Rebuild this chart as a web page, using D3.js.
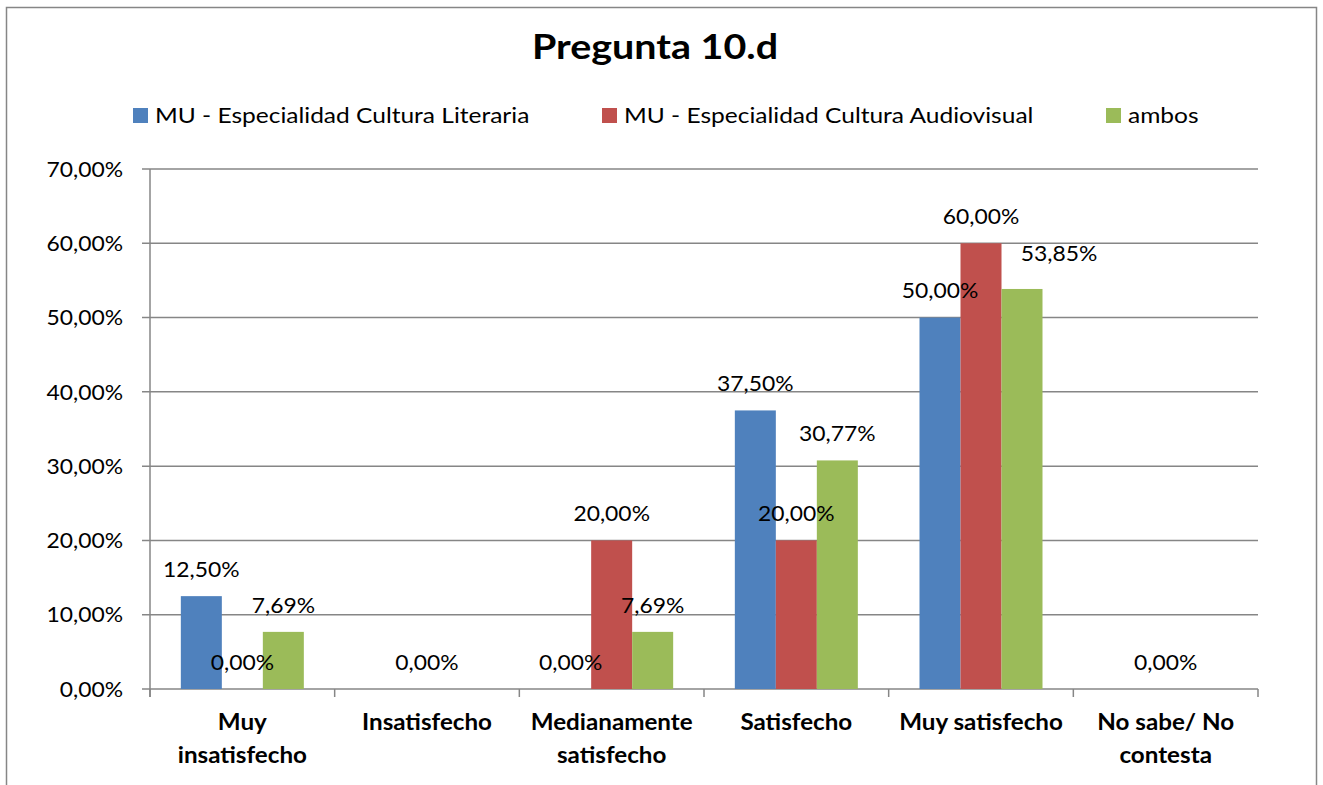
<!DOCTYPE html>
<html>
<head>
<meta charset="utf-8">
<script src="https://cdn.jsdelivr.net/npm/d3@7"></script>
<style>
  body { margin: 0; background: #fff; }
  text { font-family: Lato, "Open Sans", sans-serif; fill: #000; }
</style>
</head>
<body>
<div id="chart"></div>
<script>
var categories = ["Muy insatisfecho", "Insatisfecho", "Medianamente satisfecho", "Satisfecho", "Muy satisfecho", "No sabe/ No contesta"];
var categoryLines = [["Muy", "insatisfecho"], ["Insatisfecho"], ["Medianamente", "satisfecho"], ["Satisfecho"], ["Muy satisfecho"], ["No sabe/ No", "contesta"]];
var seriesNames = ["MU - Especialidad Cultura Literaria", "MU - Especialidad Cultura Audiovisual", "ambos"];
// null = no value (no label in the original)
var literaria = [12.5, null, 0, 37.5, 50, null];
var audiovisual = [0, 0, 20, 20, 60, 0];
var ambos = [7.69, null, 7.69, 30.77, 53.85, null];
var yTicks = [0, 10, 20, 30, 40, 50, 60, 70];
var colors = ["#4F81BD", "#C0504D", "#9BBB59"];

window.onload = () => {
    var width = 1323;
    var height = 785;
    var margin = { top: 169, right: 65, bottom: 96, left: 150 };

    var svg = d3.select("#chart")
        .append("svg")
        .attr("width", width)
        .attr("height", height);

    // the original font (Calibri) is wider than Lato, so stretch text a bit
    function place(sel, fx, fy, sx) {
        sel.attr("transform", (d, i) => "translate(" + fx(d, i) + "," + fy(d, i) + ") scale(" + sx + ",1)");
    }

    // outer chart border
    svg.append("rect")
        .attr("x", 6.5).attr("y", 7.5)
        .attr("width", 1310).attr("height", 800)
        .attr("fill", "none")
        .attr("stroke", "#868686")
        .attr("stroke-width", 1.5);

    var x = d3.scaleBand()
        .domain(categories)
        .range([margin.left, width - margin.right]);

    var x1 = d3.scaleBand()
        .domain(d3.range(3))
        .range([0, x.bandwidth()]);
    x1.paddingOuter((x.bandwidth() - 123) / 2 / (123 / 3));

    var y = d3.scaleLinear()
        .domain([0, 70])
        .range([height - margin.bottom, margin.top]);

    var fmt = v => v.toFixed(2).replace(".", ",") + "%";

    // gridlines
    svg.append("g")
        .selectAll("line")
        .data(yTicks)
        .enter()
        .append("line")
        .attr("x1", margin.left - 8)
        .attr("x2", width - margin.right)
        .attr("y1", d => y(d))
        .attr("y2", d => y(d))
        .attr("stroke", "#868686")
        .attr("stroke-width", 1.5);

    // y labels
    var yl = svg.append("g")
        .selectAll("text")
        .data(yTicks)
        .enter()
        .append("text")
        .attr("dy", "0.35em")
        .attr("text-anchor", "end")
        .style("font-size", "22px")
        .text(d => fmt(d));
    place(yl, () => 123, d => y(d), 1.04);

    var series = [literaria, audiovisual, ambos];
    var bars = [];
    series.forEach((s, i) => {
        s.forEach((v, j) => {
            bars.push({ s: i, cat: categories[j], v: v });
        });
    });
    bars = bars.filter(d => d.v !== null);

    svg.append("g")
        .selectAll("rect")
        .data(bars)
        .enter()
        .append("rect")
        .attr("x", d => x(d.cat) + x1(d.s))
        .attr("y", d => y(d.v))
        .attr("width", x1.bandwidth())
        .attr("height", d => y(0) - y(d.v))
        .attr("fill", d => colors[d.s]);

    // axes lines
    svg.append("line")
        .attr("x1", margin.left).attr("x2", margin.left)
        .attr("y1", margin.top).attr("y2", y(0) + 8)
        .attr("stroke", "#868686").attr("stroke-width", 1.5);

    svg.append("g")
        .selectAll("line")
        .data(d3.range(categories.length + 1))
        .enter()
        .append("line")
        .attr("x1", d => margin.left + d * x.bandwidth())
        .attr("x2", d => margin.left + d * x.bandwidth())
        .attr("y1", y(0))
        .attr("y2", y(0) + 8)
        .attr("stroke", "#868686").attr("stroke-width", 1.5);

    // value labels (Excel nudged the 53,85% label out of the way)
    var nudge = d => (d.s === 2 && d.v === 53.85) ? [37, -9] : [0, 0];
    var vl = svg.append("g")
        .selectAll("text")
        .data(bars)
        .enter()
        .append("text")
        .attr("dy", "0.35em")
        .attr("text-anchor", "middle")
        .style("font-size", "22px")
        .text(d => fmt(d.v));
    place(vl, d => x(d.cat) + x1(d.s) + x1.bandwidth() / 2 + nudge(d)[0], d => y(d.v) - 27 + nudge(d)[1], 1.04);

    // category labels
    var cl = svg.append("g")
        .selectAll("text")
        .data(categories)
        .enter()
        .append("text")
        .attr("text-anchor", "middle")
        .style("font-size", "22px")
        .style("font-weight", "bold");
    place(cl, d => x(d) + x.bandwidth() / 2, () => 730, 1.1);

    cl.selectAll("tspan")
        .data((d, i) => categoryLines[i])
        .enter()
        .append("tspan")
        .attr("x", 0)
        .attr("dy", (d, i) => i === 0 ? 0 : 33)
        .text(d => d);

    // title
    var t = svg.append("text")
        .datum("Pregunta 10.d")
        .attr("text-anchor", "middle")
        .style("font-size", "34px")
        .style("font-weight", "bold")
        .text(d => d);
    place(t, () => 655, () => 59, 1.16);

    // legend
    var legendX = [133, 602, 1106];
    var legend = svg.append("g")
        .selectAll("g")
        .data(seriesNames)
        .enter()
        .append("g")
        .attr("transform", (d, i) => "translate(" + legendX[i] + ",115)");

    legend.append("rect")
        .attr("x", 0).attr("y", -7)
        .attr("width", 15).attr("height", 15)
        .attr("fill", (d, i) => colors[i]);

    var lt = legend.append("text")
        .attr("dy", "0.35em")
        .style("font-size", "22px")
        .text(d => d);
    place(lt, () => 22, () => 0, 1.115);
}
</script>
</body>
</html>
